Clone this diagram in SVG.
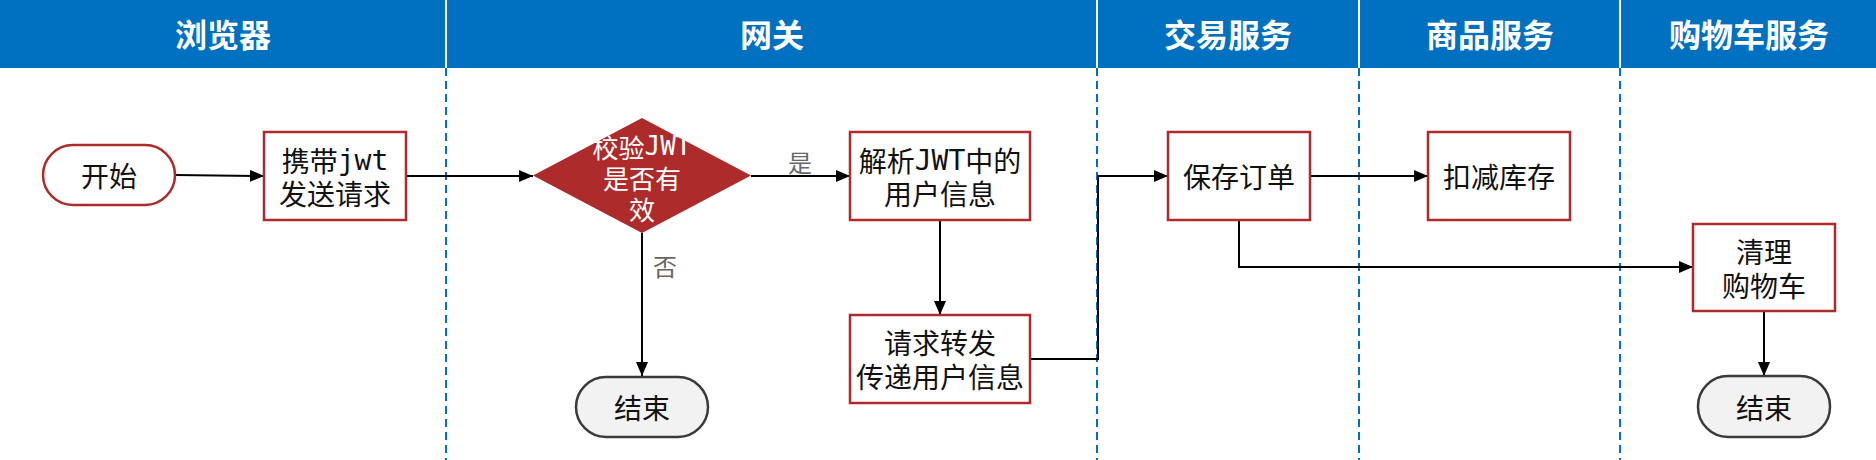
<svg xmlns="http://www.w3.org/2000/svg" width="1876" height="460" viewBox="0 0 1876 460">
<style>
.hdr{fill:#0070C0}
.htxt{font-family:"Noto Sans CJK SC",sans-serif;font-weight:bold;font-size:32px;fill:#fff;text-anchor:middle;dominant-baseline:central}
.hdiv{stroke:#fff;stroke-width:2}
.lane{stroke:#0070C0;stroke-width:2;stroke-dasharray:8 5}
.box{fill:#fff;stroke:#AD2B2B;stroke-width:2.5}
.start{fill:#fff;stroke:#AD2B2B;stroke-width:2.5}
.end{fill:#F2F2F2;stroke:#3A3A3A;stroke-width:2.5}
.dia{fill:#AD2B2B}
.t{font-family:"Noto Sans CJK SC",sans-serif;font-size:28px;fill:#111;text-anchor:middle;dominant-baseline:central}
.dt{font-family:"Noto Sans CJK SC",sans-serif;font-size:26px;fill:#fff;text-anchor:middle;dominant-baseline:central}
.lbl{font-family:"Noto Sans CJK SC",sans-serif;font-size:24px;fill:#666;text-anchor:middle;dominant-baseline:central}
.m{font-family:"DejaVu Sans Mono",monospace}
.c{fill:none;stroke:#000;stroke-width:2;marker-end:url(#ah)}
</style>
<defs>
<marker id="ah" markerUnits="userSpaceOnUse" markerWidth="14" markerHeight="12" refX="14" refY="6" orient="auto">
<path d="M0,0 L14,6 L0,12 z" fill="#000"/>
</marker>
</defs>
<rect width="1876" height="460" fill="#fff"/>
<g id="header">
<rect class="hdr" x="0" y="0" width="1876" height="68"/>
<line class="hdiv" x1="446" y1="0" x2="446" y2="68"/>
<line class="hdiv" x1="1097" y1="0" x2="1097" y2="68"/>
<line class="hdiv" x1="1359" y1="0" x2="1359" y2="68"/>
<line class="hdiv" x1="1620" y1="0" x2="1620" y2="68"/>
<text class="htxt" x="223" y="33">浏览器</text>
<text class="htxt" x="772" y="33">网关</text>
<text class="htxt" x="1228" y="33">交易服务</text>
<text class="htxt" x="1490" y="33">商品服务</text>
<text class="htxt" x="1749" y="33">购物车服务</text>
</g>
<g id="lanes">
<line class="lane" x1="446" y1="68" x2="446" y2="460"/>
<line class="lane" x1="1097" y1="68" x2="1097" y2="460"/>
<line class="lane" x1="1359" y1="68" x2="1359" y2="460"/>
<line class="lane" x1="1620" y1="68" x2="1620" y2="460"/>
</g>
<g id="connectors">
<path class="c" d="M175,175 L264,176"/>
<path class="c" d="M406,176 L533,176"/>
<path class="c" d="M751,176 L850,176"/>
<path class="c" d="M642,233 L642,376"/>
<path class="c" d="M940,220 L940,315"/>
<path class="c" d="M1030,359 L1098,359 L1098,176 L1168,176"/>
<path class="c" d="M1310,176 L1428,176"/>
<path class="c" d="M1239,220 L1239,267 L1693,267"/>
<path class="c" d="M1764,311 L1764,376"/>
<text class="lbl" x="800" y="161">是</text>
<text class="lbl" x="665" y="265">否</text>
</g>
<g id="start">
<rect class="start" x="43" y="145" width="132" height="60" rx="30"/>
<text class="t" x="109" y="175">开始</text>
</g>
<g id="send">
<rect class="box" x="264" y="132" width="142" height="88"/>
<text class="t" x="335" y="159.5">携带<tspan class="m">jwt</tspan></text>
<text class="t" x="335" y="193">发送请求</text>
</g>
<g id="check">
<polygon class="dia" points="642,118 751,175.5 642,233 533,175.5"/>
<text class="dt" x="642" y="146">校验<tspan class="m">JWT</tspan></text>
<text class="dt" x="642" y="177">是否有</text>
<text class="dt" x="642" y="208">效</text>
</g>
<g id="end1">
<rect class="end" x="576" y="377" width="132" height="60" rx="30"/>
<text class="t" x="642" y="407">结束</text>
</g>
<g id="parse">
<rect class="box" x="850" y="132" width="180" height="88"/>
<text class="t" x="940" y="159.5">解析<tspan class="m">JWT</tspan>中的</text>
<text class="t" x="940" y="193">用户信息</text>
</g>
<g id="forward">
<rect class="box" x="850" y="315" width="180" height="88"/>
<text class="t" x="940" y="342">请求转发</text>
<text class="t" x="940" y="376">传递用户信息</text>
</g>
<g id="saveOrder">
<rect class="box" x="1168" y="132" width="142" height="88"/>
<text class="t" x="1239" y="176">保存订单</text>
</g>
<g id="deduct">
<rect class="box" x="1428" y="132" width="142" height="88"/>
<text class="t" x="1499" y="176">扣减库存</text>
</g>
<g id="clearCart">
<rect class="box" x="1693" y="224" width="142" height="87"/>
<text class="t" x="1764" y="250.5">清理</text>
<text class="t" x="1764" y="284.5">购物车</text>
</g>
<g id="end2">
<rect class="end" x="1698" y="376" width="132" height="61" rx="30"/>
<text class="t" x="1764" y="406.5">结束</text>
</g>
</svg>
